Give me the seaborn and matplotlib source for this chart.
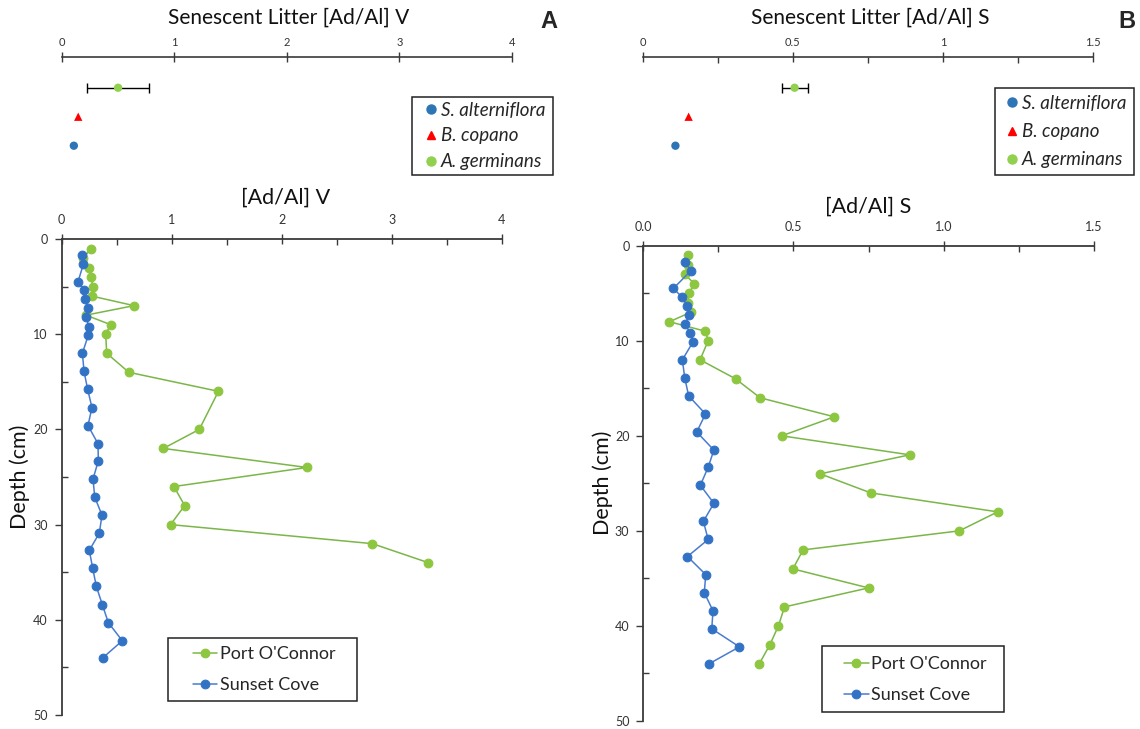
import numpy as np
import pandas as pd
import matplotlib
matplotlib.use("Agg")
import matplotlib.pyplot as plt
import seaborn as sns
from matplotlib.ticker import MultipleLocator
from matplotlib.patches import Rectangle

# ---------------- data ----------------
species = ["A. germinans", "B. copano", "S. alterniflora"]
litter_V = [0.50, 0.146, 0.107]
litter_V_err = [0.275, 0.0, 0.0]
litter_S = [0.506, 0.153, 0.109]
litter_S_err = [0.043, 0.0, 0.0]

poc_depth_V = [1, 2, 3, 4, 5, 6, 7, 8, 9, 10, 12, 14, 16, 20, 22, 24, 26, 28, 30, 32, 34]
poc_V = [0.266, 0.197, 0.245, 0.263, 0.287, 0.275, 0.657, 0.221, 0.445, 0.400, 0.409,
         0.610, 1.425, 1.251, 0.924, 2.230, 1.020, 1.118, 0.990, 2.824, 3.333]

sc_depth = [1.7, 2.65, 4.5, 5.4, 6.35, 7.3, 8.2, 9.2, 10.1, 12.0, 13.9, 15.8, 17.7, 19.6,
            21.5, 23.3, 25.2, 27.1, 29.0, 30.9, 32.7, 34.6, 36.5, 38.4, 40.3, 42.2, 44.0]
sc_V = [0.188, 0.197, 0.148, 0.206, 0.209, 0.242, 0.218, 0.248, 0.242, 0.188, 0.203, 0.236,
        0.275, 0.239, 0.330, 0.333, 0.285, 0.300, 0.366, 0.342, 0.251, 0.282, 0.315, 0.369,
        0.424, 0.551, 0.373]

poc_depth_S = [1, 2, 3, 4, 5, 6, 7, 8, 9, 10, 12, 14, 16, 18, 20, 22, 24, 26, 28, 30, 32,
               34, 36, 38, 40, 42, 44]
poc_S = [0.149, 0.148, 0.138, 0.170, 0.152, 0.148, 0.158, 0.087, 0.207, 0.216, 0.189, 0.307,
         0.389, 0.636, 0.461, 0.887, 0.589, 0.757, 1.180, 1.052, 0.532, 0.498, 0.750, 0.470,
         0.450, 0.421, 0.386]
sc_S = [0.139, 0.158, 0.100, 0.129, 0.147, 0.152, 0.140, 0.155, 0.166, 0.130, 0.138, 0.151,
        0.207, 0.178, 0.235, 0.216, 0.190, 0.235, 0.200, 0.216, 0.147, 0.208, 0.203, 0.232,
        0.228, 0.320, 0.218]

site_names = ["Port O'Connor", "Sunset Cove"]
legend_species = ["S. alterniflora", "B. copano", "A. germinans"]

# ---------------- style ----------------
sns.set_theme(style="white")
plt.rcParams["font.family"] = ["Lato", "DejaVu Sans"]

GREEN_M = "#8DC63F"
GREEN_L = "#7AB648"
BLUE_M = "#3272C4"
BLUE_L = "#4A7BD0"
SP_COL = {"A. germinans": "#92D050", "B. copano": "#FF0000", "S. alterniflora": "#2E75B6"}
SP_MRK = {"A. germinans": "o", "B. copano": "^", "S. alterniflora": "o"}
SPINE = "#3a3a3a"
TICKTXT = "#333333"

W, H = 1140, 729
fig = plt.figure(figsize=(W / 100, H / 100), dpi=100)


def fx(px):
    return px / W


def fy(py):
    return 1 - py / H


def add_axes_px(x0, y0, x1, y1):
    return fig.add_axes([fx(x0), fy(y1), fx(x1) - fx(x0), (y1 - y0) / H])


# ---------------- small litter panels ----------------
def litter_panel(x0, x1, vals, errs, xmax, major, minor, fmt, title, title_x, leg_x, leg_y0, leg_y1,
                 spacing, box):
    ax = add_axes_px(x0, 57.3, x1, 174.7)
    df = pd.DataFrame({"val": vals, "sp": species})
    sns.scatterplot(data=df, x="val", y="sp", hue="sp", style="sp", palette=SP_COL,
                    markers=SP_MRK, s=36, linewidth=0, ax=ax, legend=False, zorder=3)
    ax.errorbar(vals[0], species[0], xerr=errs[0], fmt="none", ecolor="black",
                elinewidth=1, capsize=3.5, capthick=1, zorder=2)
    ax.set_xlim(0, xmax)
    ax.set_ylim(3.0, -1.05)
    for s in ["left", "right", "bottom"]:
        ax.spines[s].set_visible(False)
    ax.spines["top"].set_color(SPINE)
    ax.spines["top"].set_linewidth(1.2)
    ax.xaxis.tick_top()
    ax.xaxis.set_major_locator(MultipleLocator(major))
    if minor:
        ax.xaxis.set_minor_locator(MultipleLocator(minor))
    ax.xaxis.set_major_formatter(fmt)
    ax.tick_params(axis="x", which="major", direction="inout", length=7, width=1,
                   color=SPINE, labelsize=8, labelcolor=TICKTXT, pad=3, top=True, bottom=False)
    ax.tick_params(axis="x", which="minor", direction="in", length=4, width=1,
                   color=SPINE, top=True, bottom=False)
    ax.set_yticks([])
    ax.set_xlabel("")
    ax.set_ylabel("")
    ax.patch.set_alpha(0)
    fig.text(fx(title_x), fy(17.5), title, ha="center", va="center", fontsize=15, color="#111111")
    handles = [plt.Line2D([], [], ls="none", marker=SP_MRK[s], color=SP_COL[s],
                          markersize=6.5 if s != "B. copano" else 6) for s in legend_species]
    fig.legend(handles, legend_species, loc="center left",
               bbox_to_anchor=(fx(leg_x), fy((leg_y0 + leg_y1) / 2)), bbox_transform=fig.transFigure,
               frameon=False, prop={"style": "italic", "size": 13.5}, handlelength=0.7,
               handletextpad=0.2, labelspacing=spacing, borderpad=0, borderaxespad=0)
    bx0, by0, bx1, by1 = box
    fig.patches.append(Rectangle((fx(bx0), fy(by1)), fx(bx1) - fx(bx0), (by1 - by0) / H,
                                 transform=fig.transFigure, fill=False, edgecolor="#222222", lw=1.1))
    return ax


fmt_int = matplotlib.ticker.FuncFormatter(lambda v, p: f"{v:g}")
litter_panel(61.8, 512, litter_V, litter_V_err, 4, 1, None, fmt_int,
             "Senescent Litter [Ad/Al] V", 289, 424, 110, 162, 0.47, (412, 97, 553, 175))
litter_panel(642.7, 1093, litter_S, litter_S_err, 1.5, 0.5, 0.25, fmt_int,
             "Senescent Litter [Ad/Al] S", 870, 1005, 103.3, 160, 0.6, (994.7, 88, 1133.6, 175))


# ---------------- depth profiles ----------------
def depth_panel(x0, y0, x1, y1, poc_d, poc_v, sc_d, sc_v, xmax, major, minor, fmt, title,
                title_x, title_y, ylab_x, ylab_y, leg_x, leg_y, box):
    ax = add_axes_px(x0, y0, x1, y1)
    sns.lineplot(x=poc_v, y=poc_d, sort=False, estimator=None, ax=ax, color=GREEN_L, lw=1.1,
                 marker="o", markersize=6.3, markerfacecolor=GREEN_M, markeredgecolor=GREEN_M,
                 label=site_names[0], legend=False)
    sns.lineplot(x=sc_v, y=sc_d, sort=False, estimator=None, ax=ax, color=BLUE_L, lw=1.1,
                 marker="o", markersize=6.3, markerfacecolor=BLUE_M, markeredgecolor=BLUE_M,
                 label=site_names[1], legend=False)
    ax.set_xlim(0, xmax)
    ax.set_ylim(50, 0)
    for s in ["right", "bottom"]:
        ax.spines[s].set_visible(False)
    for s in ["top", "left"]:
        ax.spines[s].set_color(SPINE)
        ax.spines[s].set_linewidth(1.3)
    ax.xaxis.tick_top()
    ax.xaxis.set_major_locator(MultipleLocator(major))
    ax.xaxis.set_minor_locator(MultipleLocator(minor))
    ax.xaxis.set_major_formatter(fmt)
    ax.yaxis.set_major_locator(MultipleLocator(10))
    ax.yaxis.set_minor_locator(MultipleLocator(5))
    ax.tick_params(axis="x", which="major", direction="inout", length=7, width=1, color=SPINE,
                   labelsize=9, labelcolor=TICKTXT, pad=6, top=True, bottom=False)
    ax.tick_params(axis="x", which="minor", direction="in", length=4, width=1, color=SPINE,
                   top=True, bottom=False)
    ax.tick_params(axis="y", which="major", direction="out", length=5, width=1, color=SPINE,
                   labelsize=9, labelcolor=TICKTXT, pad=5, left=True)
    ax.tick_params(axis="y", which="minor", direction="in", length=4, width=1, color=SPINE, left=True)
    ax.set_xlabel("")
    ax.set_ylabel("")
    ax.patch.set_alpha(0)
    fig.text(fx(title_x), fy(title_y), title, ha="center", va="center", fontsize=15.5, color="#111111")
    fig.text(fx(ylab_x), fy(ylab_y), "Depth (cm)", ha="center", va="center", rotation=90,
             fontsize=15.5, color="#111111")
    h, l = ax.get_legend_handles_labels()
    fig.legend(h, l, loc="center left", bbox_to_anchor=(fx(leg_x), fy(leg_y)),
               bbox_transform=fig.transFigure, frameon=False, fontsize=13, handlelength=1.35,
               handletextpad=0.15, labelspacing=0.85, borderpad=0, borderaxespad=0)
    bx0, by0, bx1, by1 = box
    fig.patches.append(Rectangle((fx(bx0), fy(by1)), fx(bx1) - fx(bx0), (by1 - by0) / H,
                                 transform=fig.transFigure, fill=False, edgecolor="#222222", lw=1.1))
    return ax


fmt_one = matplotlib.ticker.FuncFormatter(lambda v, p: f"{v:.1f}")
depth_panel(61.7, 239, 501.7, 715, poc_depth_V, poc_V, sc_depth, sc_V, 4, 1, 0.5, fmt_int,
            "[Ad/Al] V", 286, 198, 20, 477, 192.7, 669.5, (168.3, 638.3, 357, 700.7))
depth_panel(643.3, 245.7, 1093.8, 721, poc_depth_S, poc_S, sc_depth, sc_S, 1.5, 0.5, 0.25, fmt_one,
            "[Ad/Al] S", 868, 207, 603, 483, 844.3, 679.5, (822.3, 645.7, 1004.3, 711.7))

# panel letters
fig.text(fx(549), fy(21), "A", ha="center", va="center", fontsize=17, fontweight="bold",
         family=["Liberation Sans", "DejaVu Sans"])
fig.text(fx(1127), fy(21), "B", ha="center", va="center", fontsize=17, fontweight="bold",
         family=["Liberation Sans", "DejaVu Sans"])

fig.savefig("out.png", dpi=100, facecolor="white")
